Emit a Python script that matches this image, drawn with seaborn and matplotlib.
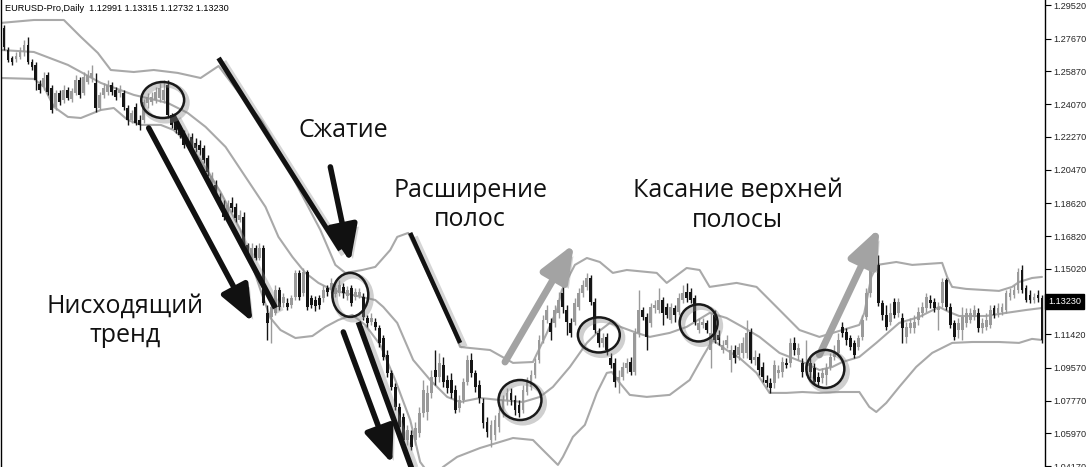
import matplotlib
matplotlib.use("Agg")
import matplotlib.pyplot as plt
import matplotlib.patheffects as pe
from matplotlib.patches import Ellipse, FancyArrowPatch
from matplotlib.transforms import blended_transform_factory
import numpy as np
import pandas as pd
import seaborn as sns

# daily EURUSD candles
opens = [
    1.2826, 1.2705, 1.2661, 1.2656, 1.2667, 1.2694, 1.2733, 1.2639, 1.2623, 1.2518,
    1.2502, 1.2568, 1.2496, 1.2392, 1.2469, 1.2430, 1.2485, 1.2436, 1.2469, 1.2540,
    1.2469, 1.2529, 1.2551, 1.2524, 1.2386, 1.2458, 1.2474, 1.2513, 1.2485, 1.2469,
    1.2469, 1.2386, 1.2320, 1.2392, 1.2320, 1.2320, 1.2414, 1.2419, 1.2430, 1.2441,
    1.2430, 1.2513, 1.2348, 1.2304, 1.2276, 1.2249, 1.2194, 1.2227, 1.2194, 1.2183,
    1.2166, 1.2111, 1.1935, 1.1963, 1.1897, 1.1853, 1.1798, 1.1864, 1.1842, 1.1770,
    1.1787, 1.1633, 1.1550, 1.1616, 1.1561, 1.1616, 1.1259, 1.1237, 1.1259, 1.1385,
    1.1314, 1.1314, 1.1303, 1.1347, 1.1479, 1.1369, 1.1484, 1.1341, 1.1330, 1.1341,
    1.1341, 1.1396, 1.1385, 1.1363, 1.1369, 1.1402, 1.1352, 1.1396, 1.1347, 1.1352,
    1.1347, 1.1231, 1.1209, 1.1209, 1.1176, 1.1121, 1.1028, 1.0929, 1.0852, 1.0742,
    1.0687, 1.0560, 1.0588, 1.0560, 1.0599, 1.0709, 1.0714, 1.0819, 1.0945, 1.0907,
    1.0973, 1.0890, 1.0890, 1.0835, 1.0736, 1.0780, 1.0879, 1.1000, 1.0929, 1.0863,
    1.0764, 1.0659, 1.0560, 1.0588, 1.0632, 1.0709, 1.0780, 1.0819, 1.0780, 1.0753,
    1.0725, 1.0824, 1.0852, 1.0918, 1.1000, 1.1110, 1.1220, 1.1204, 1.1204, 1.1259,
    1.1369, 1.1275, 1.1204, 1.1209, 1.1292, 1.1369, 1.1402, 1.1451, 1.1319, 1.1149,
    1.1094, 1.1127, 1.1011, 1.0984, 1.0890, 1.0907, 1.0956, 1.0989, 1.0934, 1.1149,
    1.1275, 1.1237, 1.1204, 1.1286, 1.1275, 1.1330, 1.1292, 1.1220, 1.1286, 1.1264,
    1.1330, 1.1374, 1.1374, 1.1341, 1.1165, 1.1193, 1.1204, 1.1055, 1.1248, 1.1138,
    1.1055, 1.1083, 1.1000, 1.1055, 1.1028, 1.1039, 1.1039, 1.1154, 1.1000, 1.1017,
    1.0962, 1.0890, 1.0874, 1.0874, 1.0929, 1.0934, 1.0984, 1.0984, 1.1094, 1.1028,
    1.0984, 1.0945, 1.0984, 1.0956, 1.0907, 1.0901, 1.0918, 1.0962, 1.1017, 1.1039,
    1.1182, 1.1154, 1.1121, 1.1094, 1.1072, 1.1127, 1.1237, 1.1369, 1.1616, 1.1523,
    1.1314, 1.1248, 1.1209, 1.1319, 1.1259, 1.1231, 1.1127, 1.1176, 1.1176, 1.1220,
    1.1259, 1.1286, 1.1330, 1.1319, 1.1275, 1.1314, 1.1440, 1.1292, 1.1204, 1.1165,
    1.1165, 1.1204, 1.1220, 1.1237, 1.1259, 1.1176, 1.1182, 1.1193, 1.1286, 1.1259,
    1.1264, 1.1275, 1.1347, 1.1358, 1.1385, 1.1495, 1.1396, 1.1358, 1.1330, 1.1358,
    1.1341,
]
highs = [
    1.2843, 1.2722, 1.2672, 1.2694, 1.2722, 1.2760, 1.2777, 1.2656, 1.2639, 1.2540,
    1.2584, 1.2584, 1.2513, 1.2485, 1.2485, 1.2513, 1.2502, 1.2496, 1.2568, 1.2557,
    1.2584, 1.2595, 1.2623, 1.2579, 1.2474, 1.2524, 1.2540, 1.2529, 1.2502, 1.2513,
    1.2485, 1.2403, 1.2375, 1.2414, 1.2348, 1.2436, 1.2469, 1.2474, 1.2502, 1.2524,
    1.2540, 1.2540, 1.2359, 1.2320, 1.2293, 1.2265, 1.2249, 1.2249, 1.2221, 1.2210,
    1.2183, 1.2128, 1.2034, 1.1990, 1.1919, 1.1880, 1.1880, 1.1897, 1.1864, 1.1825,
    1.1814, 1.1644, 1.1644, 1.1633, 1.1644, 1.1633, 1.1303, 1.1314, 1.1413, 1.1402,
    1.1369, 1.1341, 1.1358, 1.1495, 1.1495, 1.1506, 1.1495, 1.1358, 1.1352, 1.1358,
    1.1413, 1.1413, 1.1451, 1.1424, 1.1440, 1.1424, 1.1407, 1.1413, 1.1396, 1.1396,
    1.1369, 1.1248, 1.1259, 1.1231, 1.1193, 1.1138, 1.1055, 1.0945, 1.0874, 1.0764,
    1.0709, 1.0643, 1.0615, 1.0659, 1.0742, 1.0890, 1.0863, 1.0945, 1.1055, 1.1039,
    1.1017, 1.0918, 1.0929, 1.0863, 1.0808, 1.0901, 1.1028, 1.1039, 1.0945, 1.0890,
    1.0791, 1.0687, 1.0670, 1.0698, 1.0742, 1.0808, 1.0846, 1.0846, 1.0808, 1.0780,
    1.0863, 1.0907, 1.0945, 1.1011, 1.1138, 1.1248, 1.1303, 1.1231, 1.1303, 1.1374,
    1.1424, 1.1303, 1.1231, 1.1341, 1.1396, 1.1440, 1.1479, 1.1468, 1.1341, 1.1176,
    1.1149, 1.1149, 1.1039, 1.1011, 1.0945, 1.0989, 1.1011, 1.1017, 1.1176, 1.1385,
    1.1292, 1.1259, 1.1314, 1.1330, 1.1396, 1.1347, 1.1314, 1.1314, 1.1303, 1.1369,
    1.1413, 1.1424, 1.1396, 1.1358, 1.1231, 1.1231, 1.1220, 1.1259, 1.1275, 1.1165,
    1.1110, 1.1138, 1.1083, 1.1083, 1.1094, 1.1127, 1.1220, 1.1176, 1.1055, 1.1039,
    1.0989, 1.0918, 1.0901, 1.1000, 1.0973, 1.1017, 1.1011, 1.1121, 1.1127, 1.1094,
    1.1011, 1.1110, 1.1011, 1.0984, 1.0934, 1.0956, 1.0984, 1.1039, 1.1083, 1.1149,
    1.1209, 1.1176, 1.1138, 1.1110, 1.1138, 1.1248, 1.1396, 1.1539, 1.1633, 1.1578,
    1.1330, 1.1303, 1.1314, 1.1341, 1.1341, 1.1259, 1.1209, 1.1231, 1.1248, 1.1292,
    1.1319, 1.1369, 1.1358, 1.1341, 1.1319, 1.1451, 1.1451, 1.1314, 1.1220, 1.1231,
    1.1292, 1.1286, 1.1286, 1.1303, 1.1286, 1.1231, 1.1259, 1.1303, 1.1303, 1.1314,
    1.1314, 1.1385, 1.1396, 1.1413, 1.1506, 1.1523, 1.1413, 1.1385, 1.1369, 1.1385,
    1.1358,
]
lows = [
    1.2705, 1.2639, 1.2623, 1.2639, 1.2656, 1.2672, 1.2628, 1.2595, 1.2485, 1.2469,
    1.2485, 1.2458, 1.2359, 1.2375, 1.2403, 1.2414, 1.2430, 1.2419, 1.2458, 1.2441,
    1.2458, 1.2518, 1.2529, 1.2364, 1.2375, 1.2441, 1.2458, 1.2458, 1.2430, 1.2447,
    1.2375, 1.2293, 1.2304, 1.2293, 1.2265, 1.2304, 1.2386, 1.2403, 1.2414, 1.2419,
    1.2414, 1.2331, 1.2276, 1.2249, 1.2221, 1.2166, 1.2172, 1.2155, 1.2144, 1.2128,
    1.2084, 1.2012, 1.1919, 1.1880, 1.1836, 1.1770, 1.1781, 1.1814, 1.1759, 1.1759,
    1.1627, 1.1550, 1.1539, 1.1550, 1.1550, 1.1303, 1.1110, 1.1094, 1.1248, 1.1275,
    1.1292, 1.1275, 1.1286, 1.1330, 1.1330, 1.1352, 1.1275, 1.1286, 1.1270, 1.1281,
    1.1319, 1.1352, 1.1369, 1.1347, 1.1352, 1.1341, 1.1330, 1.1297, 1.1330, 1.1341,
    1.1220, 1.1182, 1.1193, 1.1165, 1.1072, 1.1000, 1.0907, 1.0835, 1.0725, 1.0615,
    1.0533, 1.0533, 1.0505, 1.0533, 1.0577, 1.0687, 1.0670, 1.0791, 1.0863, 1.0879,
    1.0852, 1.0819, 1.0791, 1.0709, 1.0714, 1.0764, 1.0863, 1.0907, 1.0824, 1.0764,
    1.0626, 1.0577, 1.0522, 1.0560, 1.0604, 1.0687, 1.0753, 1.0753, 1.0698, 1.0687,
    1.0709, 1.0808, 1.0835, 1.0901, 1.0984, 1.1094, 1.1204, 1.1110, 1.1182, 1.1231,
    1.1259, 1.1138, 1.1127, 1.1193, 1.1275, 1.1347, 1.1385, 1.1303, 1.1149, 1.1072,
    1.1072, 1.1028, 1.0956, 1.0852, 1.0819, 1.0890, 1.0929, 1.0918, 1.0918, 1.1127,
    1.1220, 1.1055, 1.1182, 1.1259, 1.1259, 1.1193, 1.1231, 1.1204, 1.1209, 1.1248,
    1.1314, 1.1319, 1.1314, 1.1193, 1.1149, 1.1176, 1.1149, 1.0956, 1.1094, 1.1083,
    1.1039, 1.1066, 1.0934, 1.0984, 1.1000, 1.1011, 1.1011, 1.0984, 1.0973, 1.0918,
    1.0879, 1.0852, 1.0819, 1.0846, 1.0901, 1.0907, 1.0956, 1.0962, 1.1028, 1.1000,
    1.0907, 1.0918, 1.0901, 1.0863, 1.0852, 1.0874, 1.0863, 1.0945, 1.1000, 1.1017,
    1.1127, 1.1083, 1.1055, 1.1011, 1.1055, 1.1110, 1.1220, 1.1347, 1.1495, 1.1297,
    1.1220, 1.1165, 1.1193, 1.1231, 1.1237, 1.1094, 1.1094, 1.1149, 1.1149, 1.1193,
    1.1237, 1.1264, 1.1286, 1.1264, 1.1165, 1.1292, 1.1275, 1.1176, 1.1110, 1.1121,
    1.1110, 1.1182, 1.1204, 1.1220, 1.1154, 1.1149, 1.1165, 1.1176, 1.1231, 1.1237,
    1.1248, 1.1259, 1.1330, 1.1341, 1.1369, 1.1369, 1.1319, 1.1314, 1.1314, 1.1319,
    1.1094,
]
closes = [
    1.2722, 1.2650, 1.2639, 1.2672, 1.2694, 1.2733, 1.2639, 1.2612, 1.2540, 1.2485,
    1.2551, 1.2474, 1.2375, 1.2469, 1.2419, 1.2485, 1.2441, 1.2480, 1.2540, 1.2458,
    1.2557, 1.2568, 1.2579, 1.2386, 1.2458, 1.2496, 1.2513, 1.2474, 1.2447, 1.2485,
    1.2392, 1.2320, 1.2359, 1.2304, 1.2293, 1.2419, 1.2447, 1.2447, 1.2474, 1.2496,
    1.2485, 1.2348, 1.2293, 1.2265, 1.2238, 1.2183, 1.2221, 1.2172, 1.2166, 1.2155,
    1.2100, 1.2034, 1.2012, 1.1897, 1.1853, 1.1787, 1.1853, 1.1836, 1.1781, 1.1798,
    1.1644, 1.1567, 1.1616, 1.1561, 1.1616, 1.1314, 1.1204, 1.1292, 1.1385, 1.1292,
    1.1347, 1.1292, 1.1341, 1.1479, 1.1347, 1.1484, 1.1292, 1.1303, 1.1297, 1.1303,
    1.1385, 1.1374, 1.1424, 1.1396, 1.1413, 1.1369, 1.1385, 1.1314, 1.1374, 1.1374,
    1.1237, 1.1204, 1.1231, 1.1182, 1.1094, 1.1017, 1.0929, 1.0852, 1.0742, 1.0632,
    1.0560, 1.0615, 1.0522, 1.0626, 1.0709, 1.0835, 1.0819, 1.0907, 1.0907, 1.0984,
    1.0879, 1.0846, 1.0819, 1.0725, 1.0780, 1.0879, 1.1000, 1.0929, 1.0852, 1.0791,
    1.0654, 1.0604, 1.0643, 1.0670, 1.0709, 1.0780, 1.0819, 1.0780, 1.0725, 1.0709,
    1.0835, 1.0879, 1.0918, 1.0984, 1.1110, 1.1220, 1.1275, 1.1154, 1.1275, 1.1330,
    1.1292, 1.1209, 1.1149, 1.1314, 1.1369, 1.1413, 1.1451, 1.1319, 1.1165, 1.1094,
    1.1121, 1.1055, 1.0973, 1.0879, 1.0907, 1.0962, 1.0984, 1.0934, 1.1149, 1.1275,
    1.1237, 1.1127, 1.1292, 1.1303, 1.1330, 1.1259, 1.1248, 1.1292, 1.1248, 1.1341,
    1.1369, 1.1341, 1.1330, 1.1209, 1.1204, 1.1209, 1.1165, 1.1149, 1.1110, 1.1110,
    1.1083, 1.1110, 1.1055, 1.1011, 1.1072, 1.1094, 1.1149, 1.1000, 1.1017, 1.0945,
    1.0907, 1.0874, 1.0846, 1.0973, 1.0945, 1.0989, 1.0973, 1.1094, 1.1055, 1.1066,
    1.0934, 1.0989, 1.0934, 1.0879, 1.0879, 1.0929, 1.0956, 1.1017, 1.1039, 1.1110,
    1.1149, 1.1110, 1.1072, 1.1028, 1.1121, 1.1220, 1.1369, 1.1512, 1.1512, 1.1314,
    1.1248, 1.1182, 1.1259, 1.1248, 1.1319, 1.1176, 1.1182, 1.1204, 1.1209, 1.1264,
    1.1292, 1.1347, 1.1314, 1.1286, 1.1292, 1.1429, 1.1292, 1.1193, 1.1127, 1.1204,
    1.1237, 1.1259, 1.1259, 1.1275, 1.1176, 1.1204, 1.1220, 1.1275, 1.1248, 1.1286,
    1.1292, 1.1369, 1.1369, 1.1385, 1.1484, 1.1385, 1.1330, 1.1330, 1.1347, 1.1341,
    1.1110,
]

# Bollinger bands (bar number, price)
upper_x = [-0.75, 7.5, 15, 19.25, 23.5, 26.75, 32.5, 37.5, 43.5, 49.25, 53.75, 59.25,
           64.75, 69.75, 74.25, 79.25, 83, 85.5, 89.75, 93, 96.75, 98.5, 101.25, 104.25,
           108, 111.75, 114.25, 116.75, 121.75, 127.5, 132.5, 136, 138.5, 139.75, 143,
           146, 149.25, 152.5, 156, 163.5, 166, 171, 174.25, 176.75, 183.5, 188.5, 193.5,
           199.25, 204.25, 210, 214.25, 215.5, 217.25, 218.75, 223.5, 227.5, 235, 236.25,
           237.5, 241, 249.25, 252.5, 254.25, 257.5, 260]
upper_y = [1.2854, 1.2870, 1.2870, 1.2777, 1.2689, 1.2595, 1.2584, 1.2595, 1.2579, 1.2551,
           1.2617, 1.2458, 1.2309, 1.2117, 1.1924, 1.1715, 1.1523, 1.1479, 1.1495, 1.1512,
           1.1605, 1.1677, 1.1699, 1.1561, 1.1385, 1.1209, 1.1072, 1.1066, 1.1055, 1.0984,
           1.0989, 1.1149, 1.1275, 1.1385, 1.1523, 1.1561, 1.1539, 1.1479, 1.1495, 1.1479,
           1.1424, 1.1506, 1.1495, 1.1402, 1.1424, 1.1402, 1.1292, 1.1165, 1.1127, 1.1165,
           1.1193, 1.1259, 1.1457, 1.1523, 1.1539, 1.1523, 1.1534, 1.1457, 1.1402, 1.1391,
           1.1380, 1.1402, 1.1429, 1.1451, 1.1457]
mid_x = [-0.75, 7.5, 16, 24.25, 32.5, 41, 46, 50.5, 55.5, 60.5, 65.5, 68.75, 72.25, 75.5,
         78.75, 82.25, 87.25, 93, 95, 98.5, 102.5, 106.75, 111, 114.25, 119.25, 124.25, 130,
         134.25, 137.5, 141.75, 146, 148.5, 151.75, 158.5, 161.75, 166.75, 171, 176.75, 181,
         185, 189.25, 194.25, 200, 204.25, 207.5, 210, 214.25, 218.5, 224.25, 229.25,
         234.25, 236.75, 239.25, 246, 251, 256, 260]
mid_y = [1.2705, 1.2694, 1.2623, 1.2524, 1.2458, 1.2414, 1.2359, 1.2282, 1.2172, 1.2007,
         1.1842, 1.1677, 1.1567, 1.1479, 1.1424, 1.1385, 1.1358, 1.1330, 1.1292, 1.1204,
         1.1000, 1.0890, 1.0797, 1.0769, 1.0791, 1.0780, 1.0769, 1.0797, 1.0852, 1.0962,
         1.1094, 1.1149, 1.1204, 1.1149, 1.1127, 1.1149, 1.1182, 1.1259, 1.1231, 1.1182,
         1.1127, 1.1039, 1.0989, 1.0945, 1.0962, 1.0989, 1.1017, 1.1094, 1.1204, 1.1237,
         1.1292, 1.1264, 1.1242, 1.1242, 1.1259, 1.1275, 1.1286]
lower_x = [-0.75, 7.5, 10, 12.5, 16, 19.25, 24.25, 27.5, 31, 34.25, 39.25, 42.5, 46, 49.25,
           54.25, 59.25, 64.25, 66.75, 69.25, 73, 77.25, 80.5, 83.75, 87.25, 90.5, 94.25,
           98, 101.75, 104.25, 107.25, 110, 113.5, 119.25, 127.5, 132.5, 135, 138.75, 140,
           142.5, 145.5, 148.5, 151, 152.25, 154.25, 156.75, 161, 166.75, 171.75, 175,
           177.5, 181, 184.25, 188.5, 191.75, 196, 200, 204.25, 209.25, 214.25, 216.75,
           218.5, 221, 224.25, 228.5, 232.5, 237.5, 242.5, 249.25, 254.25, 257.5, 260]
lower_y = [1.2551, 1.2546, 1.2502, 1.2392, 1.2337, 1.2331, 1.2375, 1.2386, 1.2320, 1.2293,
           1.2293, 1.2265, 1.2194, 1.2100, 1.1924, 1.1715, 1.1385, 1.1231, 1.1165, 1.1121,
           1.1132, 1.1182, 1.1220, 1.1248, 1.1193, 1.1083, 1.0890, 1.0670, 1.0439, 1.0351,
           1.0412, 1.0467, 1.0516, 1.0571, 1.0560, 1.0505, 1.0423, 1.0467, 1.0577, 1.0643,
           1.0819, 1.0929, 1.0934, 1.0874, 1.0808, 1.0797, 1.0808, 1.0890, 1.1017, 1.1110,
           1.1055, 1.1011, 1.0929, 1.0819, 1.0819, 1.0824, 1.0819, 1.0824, 1.0824, 1.0742,
           1.0714, 1.0764, 1.0852, 1.0962, 1.1039, 1.1094, 1.1099, 1.1099, 1.1094, 1.1116,
           1.1110]

tick_prices = [1.29520, 1.27670, 1.25870, 1.24070, 1.22270, 1.20470, 1.18620, 1.16820,
               1.15020, 1.11420, 1.09570, 1.07770, 1.05970, 1.04170]
last_price = 1.13230
header = "EURUSD-Pro,Daily  1.12991 1.13315 1.12732 1.13230"

sns.set_theme(style="white")
plt.rcParams['font.family'] = ['Open Sans', 'DejaVu Sans']

fig = plt.figure(figsize=(10.88, 4.67), dpi=100)
ax = fig.add_axes([1 / 1088, 0, 1044 / 1088, 1])

df = pd.DataFrame({'o': opens, 'h': highs, 'l': lows, 'c': closes})
df['bar'] = np.arange(len(df))
df['color'] = np.where(df.c >= df.o, '#9a9a9a', '#151515')

band_col = '#a9a9a9'
for bx, by in [(upper_x, upper_y), (mid_x, mid_y), (lower_x, lower_y)]:
    sns.lineplot(x=bx, y=by, ax=ax, color=band_col, lw=1.5, sort=False,
                 estimator=None, zorder=1)

ax.vlines(df.bar, df.l, df.h, colors=df.color, lw=1, zorder=2)
ax.bar(df.bar, (df.c - df.o).abs(), bottom=np.minimum(df.o, df.c), width=0.72,
       color=df.color, lw=0, zorder=3)

ax.set_xlim(-0.75, 260.76)
ax.set_ylim(1.04115, 1.2980)

# axis look (MT4 style)
for s in ['top', 'bottom']:
    ax.spines[s].set_visible(False)
for s in ['left', 'right']:
    ax.spines[s].set_visible(True)
    ax.spines[s].set_color('black')
    ax.spines[s].set_linewidth(1)
ax.set_xticks([])
ax.set_xlabel('')
ax.set_ylabel('')
ax.yaxis.tick_right()
ax.set_yticks(tick_prices)
ax.set_yticklabels([f"{v:.5f}" for v in tick_prices])
ax.tick_params(axis='y', right=True, left=False, labelright=True, labelleft=False,
               length=4, width=0.8, color='black', labelsize=6.6, pad=2, direction='out')
for lab in ax.get_yticklabels():
    lab.set_family('Liberation Sans')

trans = blended_transform_factory(ax.transAxes, ax.transData)
ax.text(1.003, last_price, f"{last_price:.5f}", transform=trans, ha='left', va='center',
        color='white', fontsize=6.6, family='Liberation Sans', clip_on=False,
        bbox=dict(boxstyle='square,pad=0.3', fc='black', ec='black'))
ax.text(0.004, 0.981, header, transform=ax.transAxes, ha='left', va='center',
        fontsize=6.6, family='Liberation Sans', color='black')

# annotations
shadow_line = lambda lw: [pe.SimpleLineShadow(offset=(3, -3), shadow_color='#888888',
                                              alpha=0.35, linewidth=lw * 1.6), pe.Normal()]
shadow_patch = [pe.SimplePatchShadow(offset=(3, -3), shadow_rgbFace='#888888', alpha=0.35),
                pe.Normal()]

def draw_arrow(p0, p1, color, lw=3.6):
    a = FancyArrowPatch(p0, p1, arrowstyle='-|>,head_length=1.1,head_width=0.45',
                        mutation_scale=20, lw=lw, color=color, shrinkA=0, shrinkB=0,
                        zorder=6, clip_on=False)
    a.set_path_effects(shadow_patch)
    ax.add_patch(a)

def draw_line(p0, p1, lw=3.6):
    ax.plot([p0[0], p1[0]], [p0[1], p1[1]], color='#111111', lw=lw, zorder=6,
            solid_capstyle='butt', path_effects=shadow_line(lw))

draw_arrow((36.25, 1.2276), (62.25, 1.1209), '#111111', lw=4.0)
draw_line((42.25, 1.2348), (68.0, 1.1286), lw=4.0)
draw_line((53.75, 1.2661), (84.25, 1.1605))
draw_arrow((81.75, 1.2062), (86.75, 1.1539), '#111111', lw=4.0)
draw_arrow((85.0, 1.1154), (97.25, 1.0430), '#111111', lw=4.0)
draw_line((88.75, 1.1209), (102.25, 1.0395), lw=4.0)
draw_line((101.75, 1.1699), (114.25, 1.1094), lw=3.2)
draw_arrow((125.5, 1.0989), (142.75, 1.1638), '#a3a3a3', lw=5.0)
draw_arrow((204.25, 1.1028), (219.25, 1.1726), '#a3a3a3', lw=5.0)

circles = [(39.75, 1.2430, 10.75, 0.0198), (86.75, 1.1358, 9.0, 0.0242),
           (129.25, 1.0780, 10.75, 0.0220), (149.0, 1.1138, 10.5, 0.0193),
           (174.0, 1.1204, 9.5, 0.0204), (205.75, 1.0951, 9.5, 0.0209)]
for cx, cy, w, h in circles:
    e = Ellipse((cx, cy), w, h, fill=False, ec='#1a1a1a', lw=1.8, zorder=7)
    e.set_path_effects([pe.SimpleLineShadow(offset=(2, -2), shadow_color='#888888',
                                            alpha=0.4, linewidth=4), pe.Normal()])
    ax.add_patch(e)

txt = dict(ha='center', va='center', fontsize=18, color='#111111', linespacing=1.25, zorder=8)
ax.text(85.0, 1.2265, "Сжатие", **txt)
ax.text(116.75, 1.1853, "Расширение\nполос", **txt)
ax.text(183.75, 1.1850, "Касание верхней\nполосы", **txt)
ax.text(30.25, 1.1215, "Нисходящий\nтренд", **txt)

fig.savefig("out.png", dpi=100, facecolor='white')
